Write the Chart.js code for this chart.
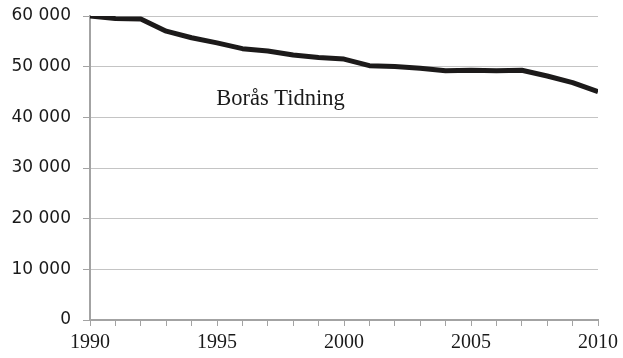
<!DOCTYPE html>
<html>
<head>
<meta charset="utf-8">
<script src="https://cdn.jsdelivr.net/npm/chart.js@4/dist/chart.umd.min.js"></script>
<style>
  html, body { margin: 0; padding: 0; background: #fff; }
  #wrap { width: 623px; height: 358px; }
</style>
</head>
<body>
<div id="wrap"><canvas id="chart" width="623" height="358"></canvas></div>
<script>
// Upplaga Borås Tidning 1990-2010
const years = [1990, 1991, 1992, 1993, 1994, 1995, 1996, 1997, 1998, 1999, 2000,
               2001, 2002, 2003, 2004, 2005, 2006, 2007, 2008, 2009, 2010];
const upplaga = [60000, 59500, 59400, 57000, 55700, 54700, 53550, 53100, 52300, 51800, 51500,
                 50200, 50050, 49700, 49200, 49300, 49200, 49300, 48150, 46850, 45050];
const seriesLabel = 'Borås Tidning';
const labelAt = { x: 1997.5, y: 43600 };

const GRID = '#c4c4c4';
const AXIS = '#a3a3a3';

const seriesLabelPlugin = {
  id: 'seriesLabel',
  afterDatasetsDraw(chart) {
    const { ctx, scales } = chart;
    ctx.save();
    ctx.font = '22.5px "Liberation Serif", serif';
    ctx.fillStyle = '#1a1a1a';
    ctx.textAlign = 'center';
    ctx.textBaseline = 'middle';
    ctx.fillText(seriesLabel, scales.x.getPixelForValue(labelAt.x), scales.y.getPixelForValue(labelAt.y));
    ctx.restore();
  }
};

new Chart(document.getElementById('chart').getContext('2d'), {
  type: 'line',
  data: {
    datasets: [{
      label: seriesLabel,
      data: years.map((yr, i) => ({ x: yr, y: upplaga[i] })),
      borderColor: '#1c1a1a',
      borderWidth: 5,
      pointRadius: 0,
      tension: 0,
      fill: false,
      borderCapStyle: 'butt',
      borderJoinStyle: 'round',
    }]
  },
  options: {
    responsive: false,
    animation: false,
    layout: { padding: { top: 16, right: 23, bottom: 0, left: 0 } },
    plugins: { legend: { display: false }, tooltip: { enabled: false } },
    scales: {
      x: {
        type: 'linear',
        min: 1990,
        max: 2010,
        afterFit: s => { s.height = 38; },
        grid: { drawOnChartArea: false, drawTicks: true, tickLength: 6, color: AXIS },
        border: { color: AXIS, width: 2 },
        ticks: {
          stepSize: 1,
          autoSkip: false,
          maxRotation: 0,
          padding: 5,
          color: '#1a1a1a',
          font: { family: '"Liberation Serif", serif', size: 20 },
          callback: v => (v % 5 === 0 ? String(v) : ''),
        }
      },
      y: {
        min: 0,
        max: 60000,
        afterFit: s => { s.width = 90; s.paddingTop = 0; s.paddingBottom = 0; },
        grid: { color: GRID, lineWidth: 1, tickLength: 7, tickColor: AXIS },
        border: { color: AXIS, width: 2 },
        ticks: {
          stepSize: 10000,
          padding: 12,
          color: '#1a1a1a',
          font: { family: '"DejaVu Sans", sans-serif', size: 17 },
          callback: v => (v === 0 ? '0' : (v / 1000) + ' 000'),
        }
      }
    }
  },
  plugins: [seriesLabelPlugin]
});
</script>
</body>
</html>
